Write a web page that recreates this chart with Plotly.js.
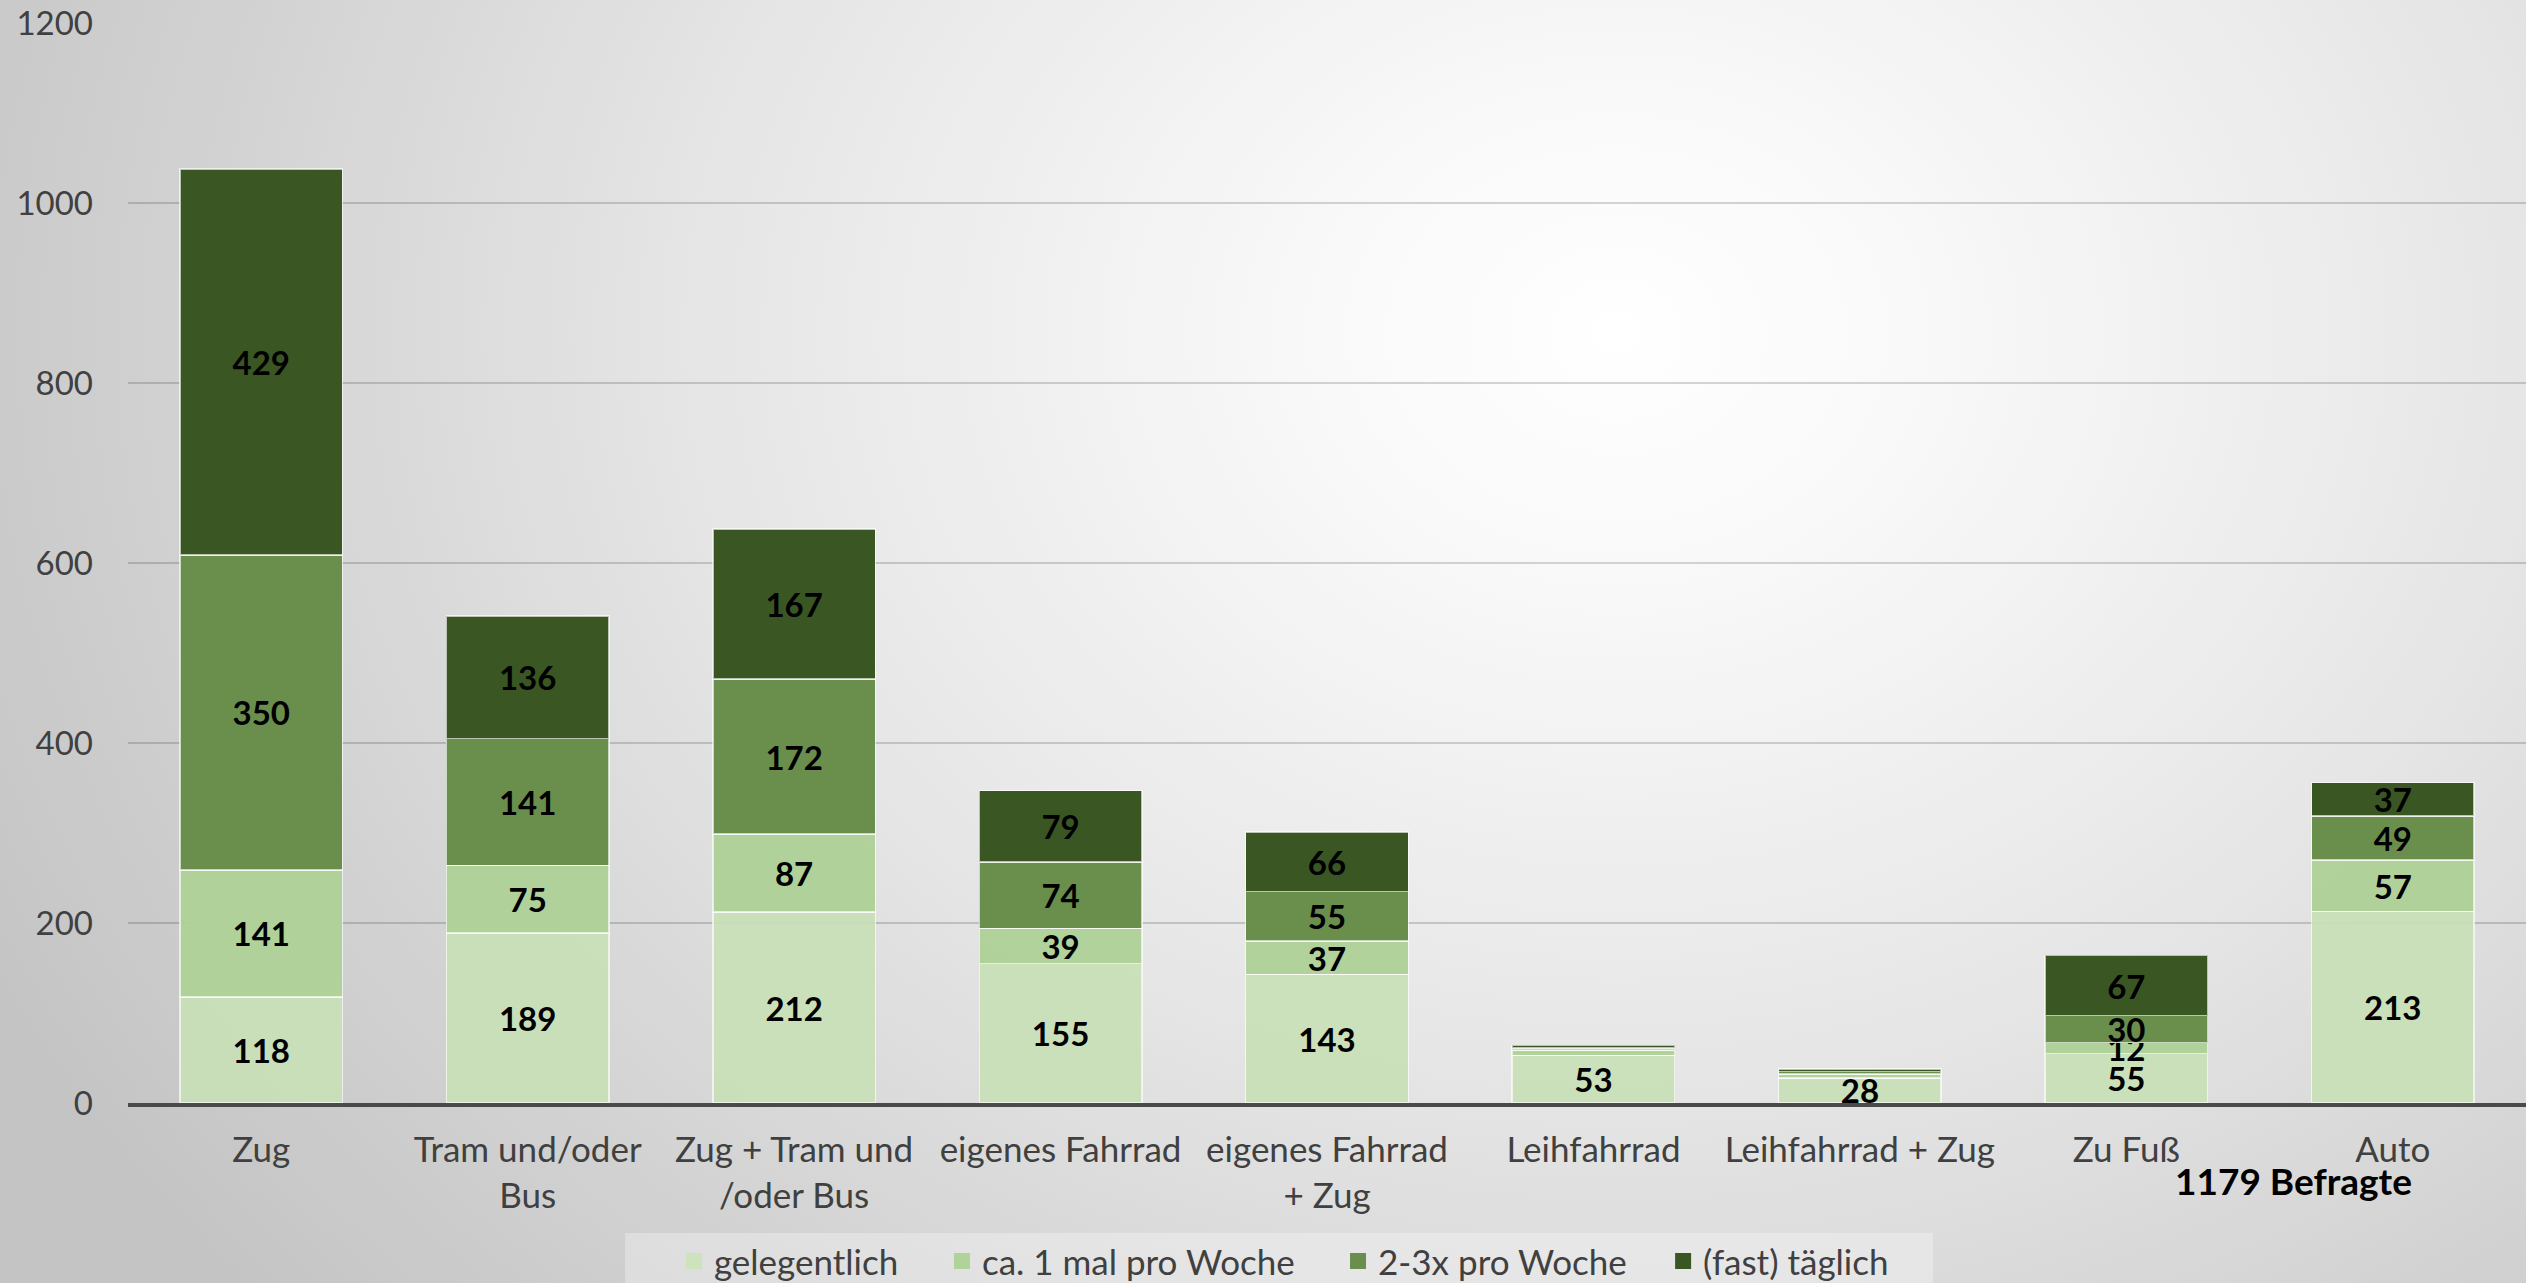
<!DOCTYPE html>
<html>
<head>
<meta charset="utf-8">
<script src="https://cdn.plot.ly/plotly-3.0.1.min.js"></script>
<style>
  html, body { margin: 0; padding: 0; }
  #chart {
    width: 2526px; height: 1283px;
    background: radial-gradient(ellipse 72% 115% at 64% 26%, #ffffff 0%, #f8f8f8 18%, #e6e6e6 50%, #d2d2d2 78%, #c4c4c4 100%);
  }
</style>
</head>
<body>
<div id="chart"></div>
<script>
const categories = ["Zug", "Tram und/oder<br>Bus", "Zug + Tram und<br>/oder Bus", "eigenes Fahrrad", "eigenes Fahrrad<br>+ Zug", "Leihfahrrad", "Leihfahrrad + Zug", "Zu Fuß", "Auto"];
const gelegentlich = [118, 189, 212, 155, 143, 53, 28, 55, 213];
const einmalProWoche = [141, 75, 87, 39, 37, 6, 4, 12, 57];
const zweiDreiProWoche = [350, 141, 172, 74, 55, 2, 3, 30, 49];
const fastTaeglich = [429, 136, 167, 79, 66, 3, 3, 67, 37];
const seriesNames = ["gelegentlich", "ca. 1 mal pro Woche", "2-3x pro Woche", "(fast) täglich"];
const yTicks = [0, 200, 400, 600, 800, 1000, 1200];
const respondents = "1179 Befragte";

const colors = ["rgba(200,224,183,0.93)", "rgba(174,210,152,0.97)", "#6a8f4d", "#3a5723"];
const legendColors = ["#cde3bd", "#b0d39a", "#6a8f4d", "#3a5723"];
const allSeries = [gelegentlich, einmalProWoche, zweiDreiProWoche, fastTaeglich];
const FONT = "Lato, 'Open Sans', sans-serif";
const legendIds = ["legend", "legend2", "legend3", "legend4"];
const legendX = [0.2668, 0.3729, 0.5297, 0.6584];

const bars = allSeries.map((vals, i) => ({
  type: "bar",
  name: seriesNames[i],
  x: categories,
  y: vals,
  text: vals.map(v => v >= 10 ? String(v) : ""),
  textposition: "inside",
  insidetextanchor: "middle",
  constraintext: "none",
  textangle: 0,
  textfont: { family: FONT, size: 33, color: "#000000", weight: "bold" },
  marker: { color: colors[i], line: { color: "rgba(255,255,255,0.65)", width: 1.5 } },
  showlegend: false,
  hoverinfo: "x+y+name"
}));

const legendEntries = seriesNames.map((name, i) => ({
  type: "scatter",
  mode: "markers",
  name: name,
  x: [null], y: [null],
  marker: { symbol: "square", size: 16, color: legendColors[i], line: { width: 0 } },
  legend: legendIds[i],
  showlegend: true,
  hoverinfo: "skip"
}));

const layout = {
  width: 2526, height: 1283,
  paper_bgcolor: "rgba(0,0,0,0)",
  plot_bgcolor: "rgba(0,0,0,0)",
  barmode: "stack",
  bargap: 0.39,
  margin: { l: 128, r: 0, t: 23, b: 180, autoexpand: false },
  font: { family: FONT, size: 33, color: "#404040" },
  xaxis: {
    type: "category",
    showline: true, linecolor: "#4a4a4a", linewidth: 4,
    ticks: "", showgrid: false,
    tickfont: { family: FONT, size: 35, color: "#404040" },
    ticklabelstandoff: 13
  },
  yaxis: {
    range: [0, 1200],
    tickvals: yTicks,
    ticktext: yTicks.map(String),
    showgrid: true, gridcolor: "rgba(0,0,0,0.16)", gridwidth: 2,
    zeroline: false, showline: false, ticks: "",
    tickfont: { family: FONT, size: 33, color: "#404040" },
    ticklabelstandoff: 34
  },
  shapes: [{
    type: "rect", xref: "paper", yref: "paper",
    x0: 0.2073, x1: 0.7527, y0: -0.2, y1: -0.1204,
    fillcolor: "rgba(255,255,255,0.3)", line: { width: 0 }, layer: "below"
  }],
  annotations: [{
    text: respondents,
    xref: "x", x: categories[8], xanchor: "center",
    xshift: -99,
    yref: "paper", y: -0.072, yanchor: "middle",
    showarrow: false,
    font: { family: FONT, size: 37, color: "#000000", weight: "bold" }
  }],
  showlegend: true
};

legendIds.forEach((id, i) => {
  layout[id] = {
    orientation: "h",
    xref: "container", yref: "container",
    x: legendX[i], xanchor: "left",
    y: 0.017, yanchor: "middle",
    bgcolor: "rgba(0,0,0,0)",
    borderwidth: 0,
    font: { family: FONT, size: 35, color: "#404040" },
    itemwidth: 30,
    itemsizing: "trace"
  };
});

Plotly.newPlot("chart", bars.concat(legendEntries), layout, { displayModeBar: false, staticPlot: true });
</script>
</body>
</html>
